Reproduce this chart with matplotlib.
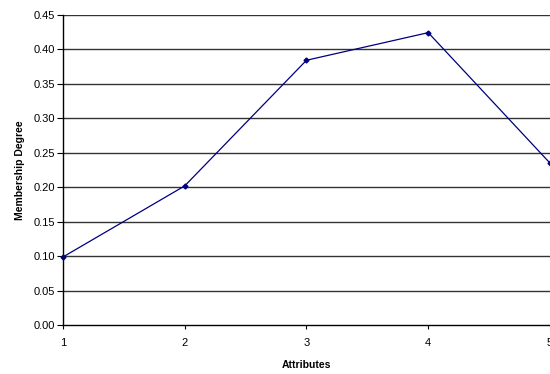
import numpy as np
import matplotlib.pyplot as plt

plt.rcParams['font.family'] = ['Liberation Sans', 'DejaVu Sans']

attributes = [1, 2, 3, 4, 5]
membership = [0.099, 0.202, 0.384, 0.424, 0.235]
y_ticks = [0.00, 0.05, 0.10, 0.15, 0.20, 0.25, 0.30, 0.35, 0.40, 0.45]

fig = plt.figure(figsize=(5.5, 3.74), dpi=100)
ax = fig.add_axes([0.1145, 0.1302, 0.8855, 0.8305])

# horizontal grid lines
for yv in y_ticks[1:]:
    ax.axhline(yv, color='#333333', lw=1.0, zorder=1)

ax.plot(attributes, membership, color='#000080', lw=0.9, marker='D',
        markersize=2.5, zorder=3, clip_on=False)

ax.set_xlim(1, 5)
ax.set_ylim(0, 0.45)
ax.set_xticks(attributes)
ax.set_yticks(y_ticks)
ax.set_yticklabels(['%.2f' % v for v in y_ticks])

ax.spines['right'].set_color('none')
ax.spines['top'].set_color('none')
ax.spines['left'].set_linewidth(1.0)
ax.spines['bottom'].set_linewidth(1.0)
ax.tick_params(axis='y', direction='out', length=4, width=0.8, labelsize=8, pad=2)
ax.tick_params(axis='x', direction='out', length=3, width=0.8, labelsize=8, pad=6.5)

ax.set_xlabel('Attributes', fontsize=7.5, fontweight='bold', labelpad=8)
ax.set_ylabel('Membership Degree', fontsize=7.5, fontweight='bold', labelpad=6)

plt.savefig('out.png', dpi=100)
